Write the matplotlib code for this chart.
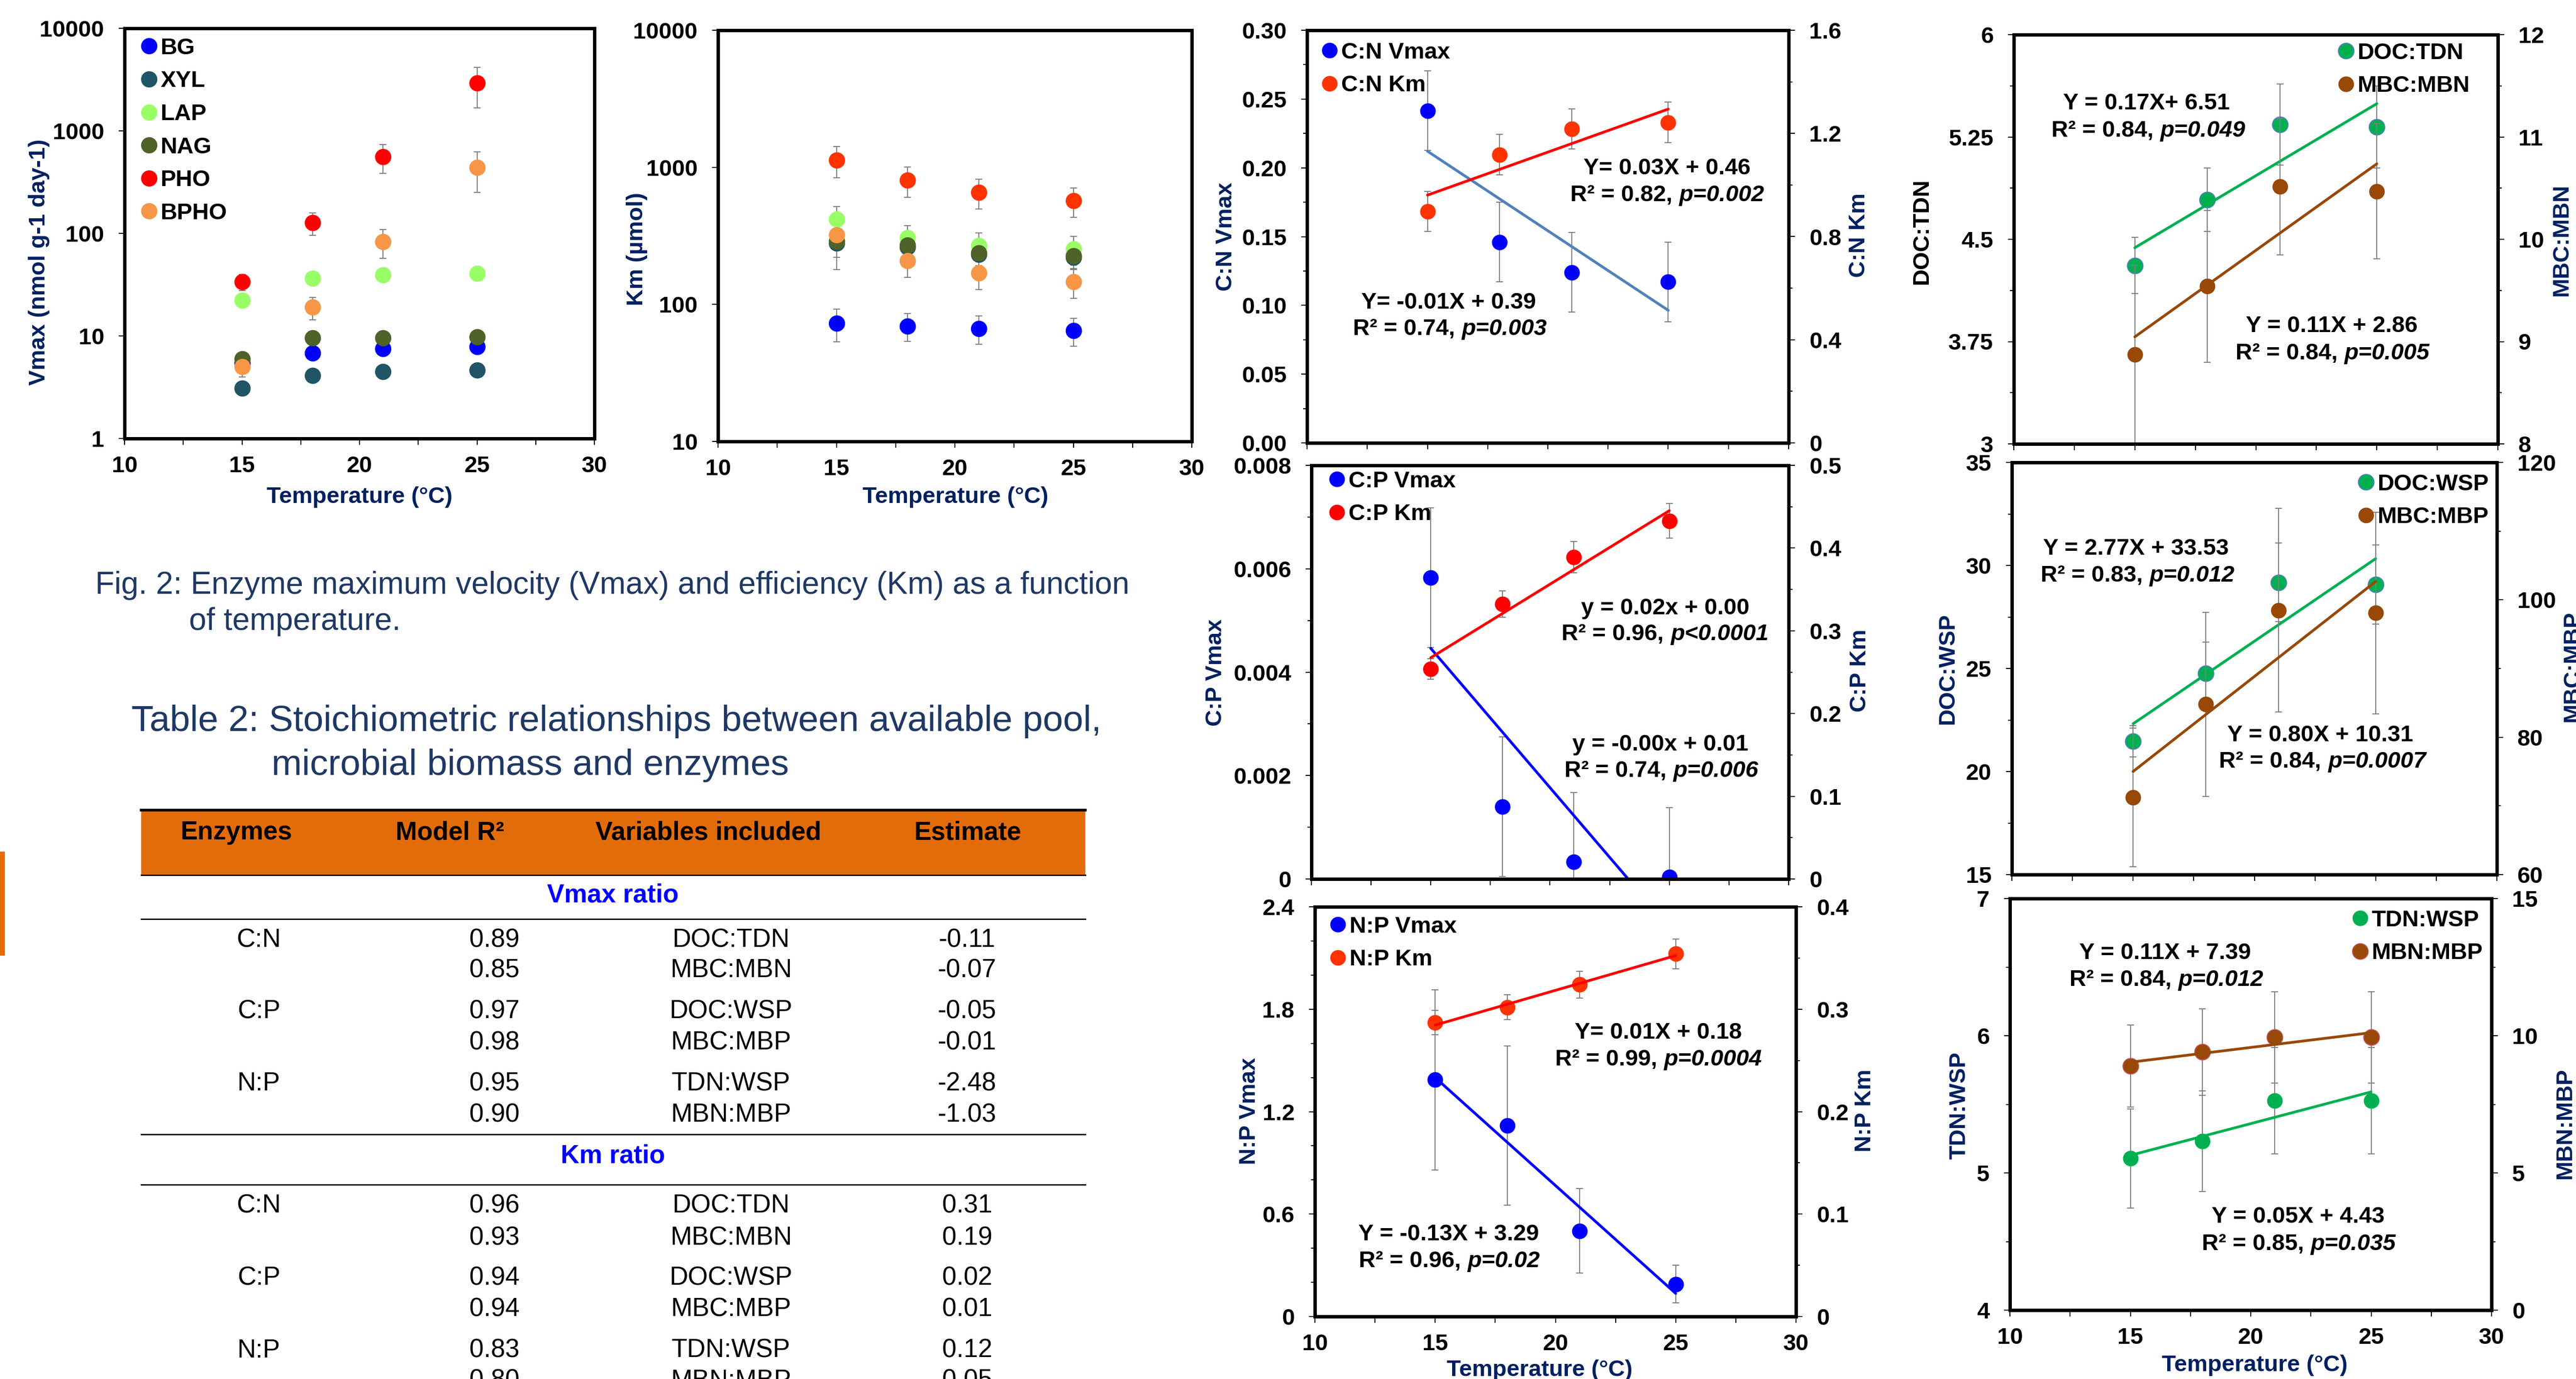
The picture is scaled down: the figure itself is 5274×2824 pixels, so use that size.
"""Poster panel: enzyme kinetics vs temperature, stoichiometric ratios, table 2."""
import numpy as np
import matplotlib
matplotlib.use("Agg")
import matplotlib.pyplot as plt
from matplotlib.ticker import MultipleLocator, FuncFormatter, NullLocator, LogLocator
from matplotlib.lines import Line2D
from matplotlib.patches import Rectangle

plt.rcParams['font.family'] = ['Liberation Sans', 'DejaVu Sans']
plt.rcParams['font.weight'] = 'bold'

# ── data ───────────────────────────────────────────────────────────────────
temps = [15, 18, 21, 25]

enzymes = ["BG", "XYL", "LAP", "NAG", "PHO", "BPHO"]
enz_colors = ["#0000FF", "#1F5566", "#99FF66", "#4F6228", "#FF0000", "#F79646"]
vmax_vals = [
    [5.4, 6.8, 7.5, 7.85],
    [3.1, 4.1, 4.5, 4.65],
    [22.3, 36.5, 39.2, 40.7],
    [6.0, 9.6, 9.6, 9.8],
    [33.6, 127, 560, 2920],
    [5.0, 19.0, 83, 437],
]
vmax_err = [
    [0.4, 0.4, 0.4, 0.4],
    [0.3, 0.3, 0.3, 0.3],
    [1.5, 1.5, 1.5, 1.5],
    [0.5, 0.5, 0.5, 0.5],
    [6, 31, 176, 1240],
    [1.0, 4.7, 26, 186],
]
km_vals = [
    [72.9, 69.6, 66.8, 64.2],
    [280, 262, 232, 220],
    [417, 305, 268, 253],
    [290, 270, 237, 225],
    [1128, 803, 657, 569],
    [322, 208, 169, 146],
]
km_err = [
    [19.5, 16, 15.5, 14.8],
    [60, 45, 40, 38],
    [102, 72, 63, 60],
    [110, 50, 45, 45],
    [290, 200, 161, 138],
    [70, 50, 41, 35],
]

cn_vmax = [0.2415, 0.146, 0.124, 0.117]
cn_vmax_err = [0.029, 0.029, 0.029, 0.029]
cn_km = [0.898, 1.118, 1.218, 1.243]
cn_km_err = [0.078, 0.078, 0.078, 0.078]
cp_vmax = [0.00583, 0.0014, 0.00033, 0.00004]
cp_vmax_err = [0.00135, 0.00135, 0.00134, 0.00134]
cp_km = [0.2536, 0.3322, 0.389, 0.4329]
cp_km_err = [0.0124, 0.016, 0.019, 0.021]
np_vmax = [1.386, 1.119, 0.502, 0.189]
np_vmax_err = [0.527, 0.467, 0.247, 0.11]
np_km = [0.287, 0.302, 0.324, 0.354]
np_km_err = [0.0117, 0.0123, 0.0132, 0.0147]

doc_tdn = [4.307, 4.789, 5.34, 5.323]
doc_tdn_err = [0.206, 0.232, 0.297, 0.30]
mbc_mbn = [8.874, 9.54, 10.515, 10.469]
mbc_mbn_err = [0.874, 0.744, 0.67, 0.66]
doc_wsp = [21.46, 24.77, 29.18, 29.08]
doc_wsp_err = [0.76, 1.5, 1.9, 1.92]
mbc_mbp = [71.22, 84.78, 98.49, 98.08]
mbc_mbp_err = [10.1, 13.4, 14.8, 14.7]
tdn_wsp = [5.105, 5.23, 5.528, 5.528]
tdn_wsp_err = [0.36, 0.367, 0.388, 0.388]
mbn_mbp = [8.895, 9.407, 9.94, 9.94]
mbn_mbp_err = [1.49, 1.57, 1.67, 1.67]

# table 2
tab_header = ["Enzymes", "Model R²", "Variables included", "Estimate"]
tab_enz = ["C:N", "", "C:P", "", "N:P", ""]
tab_vars = ["DOC:TDN", "MBC:MBN", "DOC:WSP", "MBC:MBP", "TDN:WSP", "MBN:MBP"]
vmax_r2 = ["0.89", "0.85", "0.97", "0.98", "0.95", "0.90"]
vmax_est = ["-0.11", "-0.07", "-0.05", "-0.01", "-2.48", "-1.03"]
km_r2 = ["0.96", "0.93", "0.94", "0.94", "0.83", "0.80"]
km_est = ["0.31", "0.19", "0.02", "0.01", "0.12", "0.05"]

# ── figure scaffolding ─────────────────────────────────────────────────────
W, H, DPI = 5274, 2824, 100
fig = plt.figure(figsize=(W / DPI, H / DPI), dpi=DPI)
R = fig.canvas.get_renderer()

NAVY = "#002060"; CAPT = "#1F3864"; GREY = "#7F7F7F"
FS = 34; MS = 23
FS_PX = FS * DPI / 72


def box(l, t, r, b):
    return [l / W, 1 - b / H, (r - l) / W, (b - t) / H]


def gfmt(v, pos=None):
    return "0" if abs(v) < 1e-12 else f"{v:g}"


def frame(ax, xlabels=False):
    for s in ax.spines.values():
        s.set_linewidth(5)
    ax.set_xlim(10, 30)
    ax.xaxis.set_major_locator(MultipleLocator(5))
    ax.xaxis.set_minor_locator(MultipleLocator(2.5))
    ax.xaxis.set_major_formatter(FuncFormatter(gfmt))
    ax.tick_params(axis='x', which='both', direction='out', length=9, width=1.5,
                   pad=16, labelsize=FS, labelbottom=xlabels)
    ax.tick_params(axis='y', which='major', direction='out', length=9, width=1.5,
                   pad=21, labelsize=FS)
    ax.tick_params(axis='y', which='minor', direction='out', length=6, width=1.5)


def yscale(ax, lo, hi, step, minor, fmt=gfmt):
    ax.set_ylim(lo, hi)
    ax.yaxis.set_major_locator(MultipleLocator(step))
    ax.yaxis.set_minor_locator(MultipleLocator(minor))
    ax.yaxis.set_major_formatter(FuncFormatter(fmt))


def series(ax, x, y, err, color, label, ms=MS, mec=None):
    ax.errorbar(x, y, yerr=err, fmt='none', ecolor=GREY, elinewidth=1.5,
                capsize=5, capthick=1.5, zorder=2)
    h, = ax.plot(x, y, 'o', ms=ms, color=color, mec=mec or color,
                 mew=1.5 if mec else 0, label=label, zorder=3, ls='none')
    return h


def trend(ax, x, y, color, lw=4):
    k, b = np.polyfit(x, y, 1)
    xs = np.array([min(x), max(x)])
    ax.plot(xs, k * xs + b, color=color, lw=lw, zorder=4, solid_capstyle='round')


def legend_at(ax, handles, mx, my):
    hl = 0.7
    left = mx - hl * FS_PX / 2
    top = my - 0.47 * FS_PX
    ax.legend(handles=handles, loc='upper left', bbox_to_anchor=(left / W, 1 - top / H),
              bbox_transform=fig.transFigure, frameon=False, fontsize=FS,
              handlelength=hl, handletextpad=0.15, labelspacing=0.5,
              borderpad=0, borderaxespad=0, numpoints=1)


def label(x, y, s, color=NAVY, rot=0, size=FS, **kw):
    return fig.text(x / W, 1 - y / H, s, ha='center', va='center', rotation=rot,
                    color=color, fontsize=size, fontweight='bold', **kw)


def eq(x, y, plain, ital=None):
    yy = 1 - (y + 3) / H
    if ital is None:
        fig.text(x / W, yy, plain, ha='center', va='center', fontsize=FS)
        return
    t1 = fig.text(0, yy, plain, ha='left', va='center', fontsize=FS)
    t2 = fig.text(0, yy, ital, ha='left', va='center', fontsize=FS, style='italic')
    w1 = t1.get_window_extent(R).width
    w2 = t2.get_window_extent(R).width
    gap = 0.278 * FS_PX
    left = x - (w1 + gap + w2) / 2
    t1.set_x(left / W)
    t2.set_x((left + w1 + gap) / W)


def fit_text(x, y, s, width, **kw):
    t = fig.text(x / W, 1 - y / H, s, ha='left', va='center', fontsize=40, **kw)
    t.set_fontsize(40 * width / t.get_window_extent(R).width)
    return t


# ── top-left: Vmax and Km vs temperature (log) ─────────────────────────────
for pos, vals, errs, lo, name, lx, ly, tx, legend in [
    (box(255, 58, 1217, 898), vmax_vals, vmax_err, 1, "Vmax (nmol g-1 day-1)", 80, 537, 736, True),
    (box(1470, 62, 2440, 904), km_vals, km_err, 10, "Km (µmol)", 1304, 510, 1956, False),
]:
    ax = fig.add_axes(pos)
    frame(ax, xlabels=True)
    ax.set_yscale('log')
    ax.set_ylim(lo, 1e4)
    ax.yaxis.set_major_locator(LogLocator(base=10, numticks=10))
    ax.yaxis.set_minor_locator(NullLocator())
    ax.yaxis.set_major_formatter(FuncFormatter(gfmt))
    hs = []
    for vals_i, err_i, c, n in zip(vals, errs, enz_colors, enzymes):
        c2 = "#FF3300" if (n == "PHO" and lo == 10) else c
        hs.append(series(ax, temps, vals_i, err_i, c2, n, ms=24))
    if legend:
        legend_at(ax, hs, 305, 99)
    label(lx, ly, name, rot=90)
    label(tx, 1018, "Temperature (°C)")

# ── middle column: enzyme ratios ───────────────────────────────────────────
mid = [
    dict(pos=box(2676, 62, 3662, 907), v=cn_vmax, ve=cn_vmax_err, k=cn_km, ke=cn_km_err,
         vname="C:N Vmax", kname="C:N Km", vline="#4F81BD", kcol="#FF3300",
         ly=(0, 0.30, 0.05, 0.025, lambda v, p: f"{v:.2f}"), ry=(0, 1.6, 0.4, 0.2),
         leg=(2722, 108), ylab=(2510, 485), rlab=(3806, 482),
         eqs=[(3413, 342, "Y= 0.03X + 0.46", None), (3413, 397, "R² = 0.82,", "p=0.002"),
              (2966, 617, "Y= -0.01X + 0.39", None), (2968, 671, "R² = 0.74,", "p=0.003")]),
    dict(pos=box(2685, 953, 3662, 1800), v=cp_vmax, ve=cp_vmax_err, k=cp_km, ke=cp_km_err,
         vname="C:P Vmax", kname="C:P Km", vline="#0000FF", kcol="#FF0000",
         ly=(0, 0.008, 0.002, 0.001, gfmt), ry=(0, 0.5, 0.1, 0.05),
         leg=(2737, 986), ylab=(2489, 1377), rlab=(3808, 1373),
         eqs=[(3409, 1243, "y = 0.02x + 0.00", None), (3409, 1296, "R² = 0.96,", "p<0.0001"),
              (3399, 1522, "y = -0.00x + 0.01", None), (3401, 1576, "R² = 0.74,", "p=0.006")]),
    dict(pos=box(2692, 1857, 3677, 2696), v=np_vmax, ve=np_vmax_err, k=np_km, ke=np_km_err,
         vname="N:P Vmax", kname="N:P Km", vline="#0000FF", kcol="#FF3300",
         ly=(0, 2.4, 0.6, 0.2, gfmt), ry=(0, 0.4, 0.1, 0.05),
         leg=(2739, 1898), ylab=(2558, 2275), rlab=(3818, 2274),
         eqs=[(3395, 2112, "Y= 0.01X + 0.18", None), (3395, 2167, "R² = 0.99,", "p=0.0004"),
              (2966, 2525, "Y = -0.13X + 3.29", None), (2967, 2580, "R² = 0.96,", "p=0.02")]),
]
for i, p in enumerate(mid):
    ax = fig.add_axes(p["pos"])
    frame(ax, xlabels=(i == 2))
    lo, hi, st, mn, f = p["ly"]
    yscale(ax, lo, hi, st, mn, f)
    tw = ax.twinx()
    for s in tw.spines.values():
        s.set_linewidth(5)
    yscale(tw, *p["ry"])
    tw.tick_params(axis='y', which='major', direction='out', length=9, width=1.5,
                   pad=21, labelsize=FS)
    tw.tick_params(axis='y', which='minor', direction='out', length=6, width=1.5)
    h1 = series(ax, temps, p["v"], p["ve"], "#0000FF", p["vname"])
    trend(ax, temps, p["v"], p["vline"])
    h2 = series(tw, temps, p["k"], p["ke"], p["kcol"], p["kname"])
    trend(tw, temps, p["k"], "#FF0000")
    legend_at(tw, [h1, h2], *p["leg"])
    label(*p["ylab"], p["vname"], rot=90)
    label(*p["rlab"], p["kname"], rot=90)
    for e in p["eqs"]:
        eq(*e)
label(3152, 2806, "Temperature (°C)")

# ── right column: pool / biomass ratios ────────────────────────────────────
GREEN, BROWN = "#00B050", "#984807"
right = [
    dict(pos=box(4123, 71, 5114, 909), a=doc_tdn, ae=doc_tdn_err, b=mbc_mbn, be=mbc_mbn_err,
         an="DOC:TDN", bn="MBC:MBN", ly=(3, 6, 0.75, 0.375), ry=(8, 12, 1, 0.5),
         amec="#4F81BD", bmec=None, acol="black",
         leg=(4803, 109), ylab=(3935, 473), rlab=(5245, 491),
         eqs=[(4395, 209, "Y = 0.17X+ 6.51", None), (4398, 265, "R² = 0.84,", "p=0.049"),
              (4774, 665, "Y = 0.11X + 2.86", None), (4775, 721, "R² = 0.84,", "p=0.005")]),
    dict(pos=box(4119, 947, 5112, 1791), a=doc_wsp, ae=doc_wsp_err, b=mbc_mbp, be=mbc_mbp_err,
         an="DOC:WSP", bn="MBC:MBP", ly=(15, 35, 5, 2.5), ry=(60, 120, 20, 10),
         amec="#4F81BD", bmec=None, acol=NAVY,
         leg=(4844, 992), ylab=(3988, 1369), rlab=(5267, 1364),
         eqs=[(4373, 1121, "Y = 2.77X + 33.53", None), (4376, 1176, "R² = 0.83,", "p=0.012"),
              (4750, 1503, "Y = 0.80X + 10.31", None), (4755, 1557, "R² = 0.84,", "p=0.0007")]),
    dict(pos=box(4115, 1840, 5101, 2683), a=tdn_wsp, ae=tdn_wsp_err, b=mbn_mbp, be=mbn_mbp_err,
         an="TDN:WSP", bn="MBN:MBP", ly=(4, 7, 1, 0.5), ry=(0, 15, 5, 2.5),
         amec=None, bmec="#C0504D", acol=NAVY,
         leg=(4832, 1885), ylab=(4012, 2264), rlab=(5252, 2300),
         eqs=[(4433, 1949, "Y = 0.11X + 7.39", None), (4435, 2004, "R² = 0.84,", "p=0.012"),
              (4705, 2489, "Y = 0.05X + 4.43", None), (4706, 2545, "R² = 0.85,", "p=0.035")]),
]
for i, p in enumerate(right):
    ax = fig.add_axes(p["pos"])
    frame(ax, xlabels=(i == 2))
    yscale(ax, *p["ly"])
    tw = ax.twinx()
    for s in tw.spines.values():
        s.set_linewidth(5)
    yscale(tw, *p["ry"])
    tw.tick_params(axis='y', which='major', direction='out', length=9, width=1.5,
                   pad=21, labelsize=FS)
    tw.tick_params(axis='y', which='minor', direction='out', length=6, width=1.5)
    h1 = series(ax, temps, p["a"], p["ae"], GREEN, p["an"], mec=p["amec"])
    trend(ax, temps, p["a"], GREEN)
    h2 = series(tw, temps, p["b"], p["be"], BROWN, p["bn"], mec=p["bmec"])
    trend(tw, temps, p["b"], BROWN)
    legend_at(tw, [h1, h2], *p["leg"])
    label(*p["ylab"], p["an"], color=p["acol"], rot=90)
    label(*p["rlab"], p["bn"], rot=90)
    for e in p["eqs"]:
        eq(*e)
label(4616, 2796, "Temperature (°C)")

# ── caption and table 2 ────────────────────────────────────────────────────
cap = fit_text(195, 1199, "Fig. 2: Enzyme maximum velocity (Vmax) and efficiency (Km) as a function",
               2117, color=CAPT, fontweight='normal')
fig.text(387 / W, 1 - 1273 / H, "of temperature.", ha='left', va='center',
         fontsize=cap.get_fontsize(), color=CAPT, fontweight='normal')
ttl = fit_text(269, 1477, "Table 2: Stoichiometric relationships between available pool,",
               1989, color=CAPT, fontweight='normal')
fig.text(556 / W, 1 - 1567 / H, "microbial biomass and enzymes", ha='left', va='center',
         fontsize=ttl.get_fontsize(), color=CAPT, fontweight='normal')

TL, TR = 289, 2222
fig.add_artist(Rectangle((TL / W, 1 - 1792 / H), (TR - TL) / W, (1792 - 1659) / H,
                         transform=fig.transFigure, facecolor="#E36C0A", edgecolor='none'))
fig.add_artist(Rectangle((0, 1 - 1957 / H), 10 / W, (1957 - 1744) / H,
                         transform=fig.transFigure, facecolor="#E36C0A", edgecolor='none'))
for yl, lw in [(1659, 4), (1792, 2), (1882, 2), (2323, 2), (2426, 2)]:
    fig.add_artist(Line2D([TL / W, TR / W], [1 - yl / H] * 2, transform=fig.transFigure,
                          color='black', lw=lw))

TFS = 38
for s, x in zip(tab_header, [484, 921, 1450, 1981]):
    fig.text(x / W, 1 - 1705 / H, s, ha='center', va='center', fontsize=TFS, color='black')
for s, y in [("Vmax ratio", 1834), ("Km ratio", 2367)]:
    fig.text(1255 / W, 1 - y / H, s, ha='center', va='center', fontsize=TFS, color="#0000FF")

col_x = [530, 1012, 1497, 1980]
for rows_y, r2, est in [([1925, 1988, 2072, 2136, 2219, 2283], vmax_r2, vmax_est),
                        ([2469, 2535, 2617, 2681, 2766, 2828], km_r2, km_est)]:
    for y, cells in zip(rows_y, zip(tab_enz, r2, tab_vars, est)):
        for s, x in zip(cells, col_x):
            fig.text(x / W, 1 - y / H, s, ha='center', va='center', fontsize=TFS,
                     color='black', fontweight='normal')

fig.savefig("out.png", dpi=DPI)
